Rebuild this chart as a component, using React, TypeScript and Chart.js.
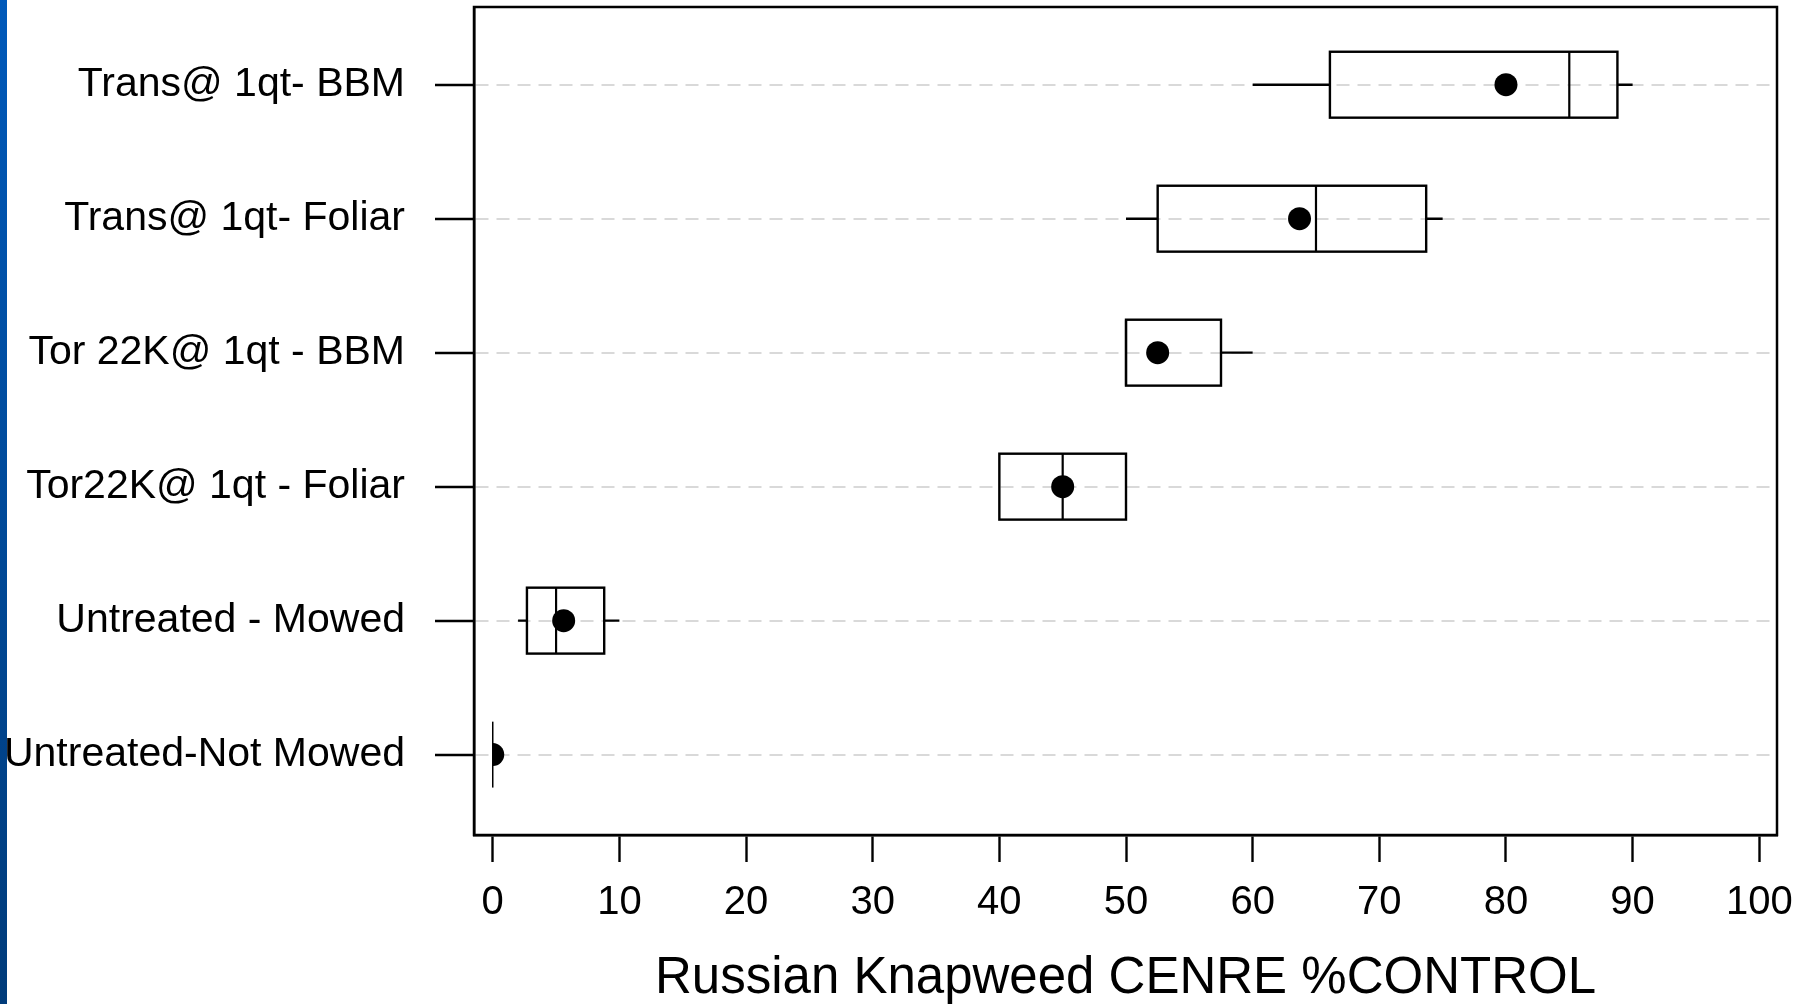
import React, { useEffect, useRef } from "react";
import { Chart, registerables } from "chart.js";

Chart.register(...registerables);

const categories = [
  "Trans@ 1qt- BBM",
  "Trans@ 1qt- Foliar",
  "Tor 22K@ 1qt - BBM",
  "Tor22K@ 1qt - Foliar",
  "Untreated - Mowed",
  "Untreated-Not Mowed",
];
const whiskerLow = [60, 50, 50, 40, 2, 0];
const quartile1 = [66.1, 52.5, 50, 40, 2.7, 0];
const medians = [85, 65, 50, 45, 5, 0];
const quartile3 = [88.8, 73.7, 57.5, 50, 8.8, 0];
const whiskerHigh = [90, 75, 60, 50, 10, 0];
const means = [80, 63.7, 52.5, 45, 5.6, 0];
const xTickValues = [0, 10, 20, 30, 40, 50, 60, 70, 80, 90, 100];
const xTitle = "Russian Knapweed CENRE %CONTROL";

const FONT = "'Liberation Sans', Arial, Helvetica, sans-serif";

const boxPlugin = {
  id: "boxPlot",
  beforeDatasetsDraw(chart: any) {
    const { ctx, scales } = chart;
    const x = scales.x;
    const y = scales.y;
    const half = 0.246;
    ctx.save();
    ctx.strokeStyle = "#000";
    categories.forEach((_, i) => {
      const yc = y.getPixelForValue(i);
      const yt = y.getPixelForValue(i - half);
      const yb = y.getPixelForValue(i + half);
      const xl = x.getPixelForValue(whiskerLow[i]);
      const x1 = x.getPixelForValue(quartile1[i]);
      const xm = x.getPixelForValue(medians[i]);
      const x3 = x.getPixelForValue(quartile3[i]);
      const xh = x.getPixelForValue(whiskerHigh[i]);
      ctx.lineWidth = 2.4;
      ctx.beginPath();
      if (xl < x1) {
        ctx.moveTo(xl, yc);
        ctx.lineTo(x1, yc);
      }
      if (xh > x3) {
        ctx.moveTo(x3, yc);
        ctx.lineTo(xh, yc);
      }
      ctx.stroke();
      if (x3 - x1 > 0.5) {
        ctx.strokeRect(x1, Math.min(yt, yb), x3 - x1, Math.abs(yb - yt));
      }
      ctx.lineWidth = x3 - x1 > 0.5 ? 2.2 : 1.5;
      ctx.beginPath();
      ctx.moveTo(xm, Math.min(yt, yb));
      ctx.lineTo(xm, Math.max(yt, yb));
      ctx.stroke();
    });
    ctx.restore();
  },
  afterDatasetsDraw(chart: any) {
    const { ctx, chartArea } = chart;
    ctx.save();
    ctx.strokeStyle = "#000";
    ctx.lineWidth = 2.5;
    ctx.strokeRect(
      chartArea.left,
      chartArea.top,
      chartArea.right - chartArea.left,
      chartArea.bottom - chartArea.top
    );
    ctx.restore();
  },
};

export default function App() {
  const ref = useRef<HTMLCanvasElement | null>(null);

  useEffect(() => {
    document.body.style.margin = "0";
    const canvas = ref.current;
    if (!canvas) return;
    const chart = new Chart(canvas, {
      type: "scatter",
      data: {
        datasets: [
          {
            label: "Mean",
            data: means.map((m, i) => ({ x: m, y: i })),
            pointRadius: 11.5,
            pointHoverRadius: 11.5,
            backgroundColor: "#000",
            borderWidth: 0,
            clip: { left: -19, top: false, right: false, bottom: false } as any,
          },
        ],
      },
      options: {
        responsive: false,
        animation: false,
        events: [],
        layout: { autoPadding: false, padding: { left: 0, top: 7, right: 37, bottom: 0 } },
        plugins: {
          legend: { display: false },
          tooltip: { enabled: false },
        },
        scales: {
          x: {
            type: "linear",
            position: "bottom",
            min: -1.48,
            max: 101.4,
            afterBuildTicks: (scale: any) => {
              scale.ticks = xTickValues.map((v) => ({ value: v }));
            },
            afterFit: (scale: any) => {
              scale.height = 169;
              scale.paddingLeft = 0;
              scale.paddingRight = 0;
            },
            grid: {
              drawOnChartArea: false,
              drawTicks: true,
              tickLength: 27,
              tickWidth: 2.4,
              tickColor: "#000",
              color: "#000",
            },
            border: { display: true, color: "#000", width: 2.5 },
            ticks: {
              padding: 17,
              color: "#000",
              font: { family: FONT, size: 40 },
              maxRotation: 0,
              autoSkip: false,
            },
            title: {
              display: true,
              text: xTitle,
              color: "#000",
              font: { family: FONT, size: 51, lineHeight: 1.0 },
              padding: { top: 0, bottom: 0 },
            },
          },
          y: {
            type: "linear",
            reverse: true,
            min: -0.58,
            max: 5.6,
            afterBuildTicks: (scale: any) => {
              scale.ticks = categories.map((_, i) => ({ value: i }));
            },
            afterFit: (scale: any) => {
              scale.width = 474;
              scale.paddingTop = 0;
              scale.paddingBottom = 0;
            },
            grid: {
              drawOnChartArea: true,
              drawTicks: true,
              color: "#d9d9d9",
              lineWidth: 2,
              tickLength: 39,
              tickWidth: 2.4,
              tickColor: "#000",
            },
            border: { display: true, color: "#000", width: 2.5, dash: [13, 8] },
            ticks: {
              padding: 30,
              color: "#000",
              font: { family: FONT, size: 41 },
              autoSkip: false,
              callback: (v: any) => categories[Number(v)] ?? "",
            },
          },
        },
      },
      plugins: [boxPlugin],
    });
    return () => chart.destroy();
  }, []);

  return (
    <div style={{ position: "relative", width: 1814, height: 1004, background: "#fff", overflow: "hidden" }}>
      <canvas ref={ref} width={1814} height={1004} style={{ display: "block" }} />
      <div
        style={{
          position: "absolute",
          left: 0,
          top: 0,
          width: 7,
          height: 1004,
          background: "linear-gradient(to bottom, #0059ba, #003b7a)",
        }}
      />
    </div>
  );
}
